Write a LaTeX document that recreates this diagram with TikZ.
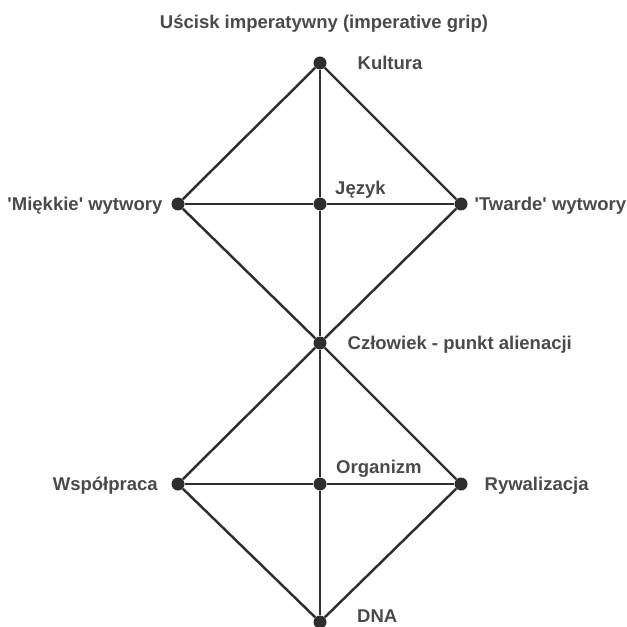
\documentclass[tikz,border=0pt]{standalone}
\usepackage{fontspec}
\setmainfont{Liberation Sans}
\usepackage{xcolor}
\usepackage{tikz}
\usetikzlibrary{positioning}

\definecolor{linegray}{HTML}{2E2E2E}
\definecolor{textgray}{HTML}{4A4A4A}

\begin{document}
\begin{tikzpicture}[
    x=0.03cm, y=-0.03cm,
    dot/.style={circle, fill=linegray, inner sep=0pt, minimum size=0.39cm},
    lbl/.style={inner sep=0pt, text height=0.4cm, text depth=0cm, text=textgray,
        font=\fontsize{15.8}{19}\selectfont\bfseries},
    edge/.style={draw=linegray, line width=2.1pt},
]
\useasboundingbox (0,0) rectangle (627,627);

% Title
\node[lbl] (title) at (324,22) {Uścisk imperatywny (imperative grip)};

% Upper diamond
\node[dot] (kult) at (320,63) {};
\node[dot] (mie) at (178,204) {};
\node[dot] (jez) at (320,204) {};
\node[dot] (twa) at (461,204) {};
\node[dot] (czl) at (320,343) {};

% Lower diamond
\node[dot] (wsp) at (178,484) {};
\node[dot] (org) at (320,484) {};
\node[dot] (ryw) at (461,484) {};
\node[dot] (dna) at (320,622) {};

% Labels
\node[lbl, right=0.92cm of kult] {Kultura};
\node[lbl, left=0.26cm of mie] {\textquotesingle Miękkie\textquotesingle{} wytwory};
\node[lbl, anchor=west] at (335,188) {Język};
\node[lbl, right=0.2cm of twa] {\textquotesingle Twarde\textquotesingle{} wytwory};
\node[lbl, right=0.62cm of czl] {Człowiek - punkt alienacji};
\node[lbl, left=0.4cm of wsp] {Współpraca};
\node[lbl, anchor=west] at (336,467) {Organizm};
\node[lbl, right=0.5cm of ryw] {Rywalizacja};
\node[lbl, anchor=west] at (357,616) {DNA};

% Connections
\foreach \a/\b in {kult/mie, kult/twa, kult/jez, jez/czl, mie/jez, jez/twa,
    mie/czl, twa/czl, czl/wsp, czl/ryw, czl/org, org/dna,
    wsp/org, org/ryw, wsp/dna, ryw/dna}
    \draw[edge] (\a) -- (\b);

\end{tikzpicture}
\end{document}
